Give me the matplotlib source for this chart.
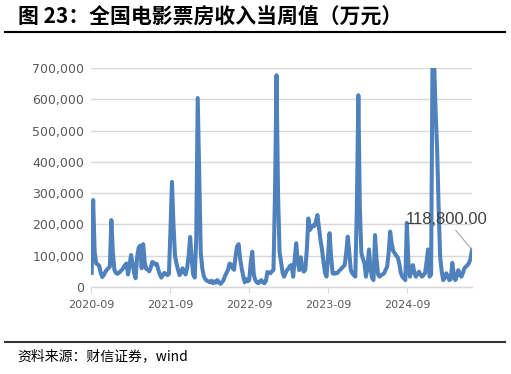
import matplotlib
matplotlib.use("Agg")
import matplotlib.pyplot as plt
import pandas as pd

plt.rcParams['font.family'] = ['DejaVu Sans', 'Noto Sans CJK SC']

title = "图 23：全国电影票房收入当周值（万元）"
source = "资料来源：财信证券，wind"
start_date = "2020-09-04"
tick_dates = ["2020-09-01", "2021-09-01", "2022-09-01", "2023-09-01", "2024-09-01"]
tick_labels = ["2020-09", "2021-09", "2022-09", "2023-09", "2024-09"]
y_ticks = [0, 100000, 200000, 300000, 400000, 500000, 600000, 700000]

# weekly box office (万元), values in thousands
values_k = [
    45, 278, 110, 75, 72, 68, 45, 32, 38, 48,
    55, 60, 65, 214, 110, 55, 45, 42, 45, 50,
    55, 62, 70, 75, 40, 70, 102, 75, 45, 28,
    95, 125, 132, 60, 137, 80, 58, 55, 50, 62,
    80, 78, 72, 74, 55, 40, 30, 38, 45, 42,
    38, 42, 180, 336, 200, 100, 75, 55, 38, 45,
    60, 48, 40, 60, 100, 160, 90, 40, 30, 150,
    604, 350, 110, 60, 35, 25, 20, 18, 15, 20,
    12, 18, 14, 22, 15, 10, 15, 22, 35, 45,
    55, 75, 72, 60, 55, 100, 130, 137, 90, 60,
    35, 15, 25, 18, 22, 80, 113, 40, 22, 15,
    12, 18, 22, 15, 12, 20, 48, 46, 44, 50,
    55, 300, 677, 300, 110, 80, 45, 33, 45, 54,
    60, 68, 70, 33, 90, 140, 80, 54, 95, 60,
    49, 55, 120, 219, 182, 190, 197, 195, 210, 230,
    190, 150, 120, 80, 45, 33, 100, 172, 100, 44,
    42, 45, 44, 50, 55, 60, 65, 70, 110, 161,
    110, 55, 44, 38, 33, 250, 613, 250, 108, 90,
    77, 33, 60, 120, 60, 30, 22, 166, 90, 40,
    33, 38, 40, 44, 55, 65, 110, 177, 140, 115,
    108, 100, 95, 75, 45, 33, 28, 22, 205, 80,
    33, 55, 70, 45, 33, 42, 49, 40, 33, 38,
    44, 80, 120, 33, 40, 780, 720, 560, 438, 250,
    95, 50, 22, 30, 44, 35, 22, 25, 77, 40,
    22, 35, 54, 40, 33, 45, 60, 65, 70, 77,
    90, 118.8,
]
last_label = "118,800.00"

values = [v * 1000 for v in values_k]
dates = pd.date_range(start_date, periods=len(values), freq="7D")

fig = plt.figure(figsize=(5.11, 3.74), dpi=100)
ax = fig.add_axes([91/511, 1 - 287/374, (472-91)/511, (287-68)/374])

ax.plot(dates, values, color="#4F81BD", lw=2.9, solid_joinstyle="round", zorder=3)
ax.set_ylim(0, 700000)
ax.set_xlim(pd.Timestamp(tick_dates[0]), dates[-1])
ax.set_yticks(y_ticks)
ax.set_yticklabels([f"{v:,}" for v in y_ticks], fontsize=9, color="#595959")
ax.set_xticks(pd.to_datetime(tick_dates))
ax.set_xticklabels(tick_labels, fontsize=8, color="#595959")
ax.grid(axis="y", color="#D9D9D9", lw=1)
ax.set_axisbelow(True)
for s in ["top", "right", "left"]:
    ax.spines[s].set_visible(False)
ax.spines["bottom"].set_color("#D9D9D9")
ax.spines["bottom"].set_linewidth(1)
ax.tick_params(axis="y", length=0, pad=5)
ax.tick_params(axis="x", length=4, color="#D9D9D9", pad=5)

ax.annotate(last_label, xy=(dates[-1], values[-1]), xytext=(-25, 30),
            textcoords="offset pixels", ha="center", va="center",
            fontsize=12, family="Liberation Sans", color="#404040",
            arrowprops=dict(arrowstyle="-", color="#A6A6A6", lw=0.8,
                            shrinkA=0, shrinkB=0),
            annotation_clip=False, zorder=5)

fig.text(18/511, 1 - 17/374, title, fontsize=15, fontweight="bold",
         family=["Noto Sans CJK SC", "DejaVu Sans"], va="center", ha="left")
fig.add_artist(plt.Line2D([5/511, 505/511], [1 - 32/374, 1 - 32/374],
                          color="black", lw=1.5))
fig.add_artist(plt.Line2D([5/511, 505/511], [1 - 342/374, 1 - 342/374],
                          color="#333333", lw=1.5))
fig.text(17/511, 1 - 356/374, source, fontsize=10, style="italic",
         family=["Noto Sans CJK SC", "DejaVu Sans"], va="center", ha="left")

fig.savefig("out.png", dpi=100)
